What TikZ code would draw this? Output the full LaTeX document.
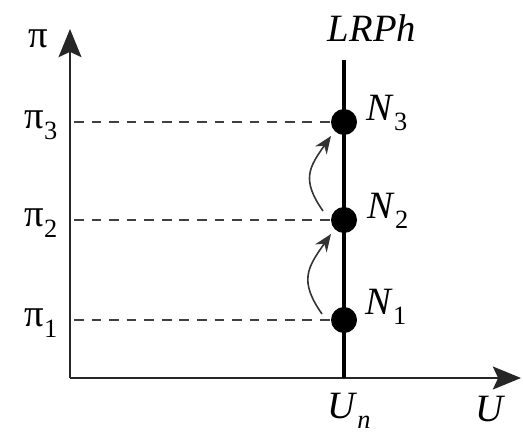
\documentclass[tikz,border=0pt]{standalone}
\usepackage{fontspec}
\setmainfont{Liberation Serif}
\usetikzlibrary{arrows.meta}
\newcommand{\lowidx}[1]{\raisebox{-0.6ex}{\fontsize{15}{15}\selectfont #1}}

\begin{document}
\begin{tikzpicture}[font=\fontsize{22}{24}\selectfont,
	axis/.style={line width=1.5pt,black!85,-{Stealth[length=16pt,width=13pt,inset=3pt]}},
	level/.style={black!75,line width=0.9pt,dash pattern=on 5.5pt off 4.5pt},
	dot/.style={circle,fill=black,inner sep=0pt,minimum width=0.52cm,minimum height=0.46cm},
	hop/.style={black!80,line width=0.9pt,-{Stealth[length=10pt,width=8pt]}}]
	\useasboundingbox (-1.4,-1.1) rectangle (9.06,7.56);
	\coordinate(O) at (0,0);
	\coordinate(Ytop) at (0,6.98);
	\coordinate(Xend) at (9.02,0);
	\coordinate(Lbot) at (5.48,0);
	\coordinate(Ltop) at (5.48,6.36);

	\node[dot](N1) at (5.48,1.16){};
	\node[dot](N2) at (5.48,3.16){};
	\node[dot](N3) at (5.48,5.12){};

	\coordinate(P1) at (0.08,1.16);
	\coordinate(P2) at (0.08,3.16);
	\coordinate(P3) at (0.08,5.12);

	\draw[level] (P1)--(N1.west);
	\draw[level] (P2)--(N2.west);
	\draw[level] (P3)--(N3.west);

	\draw[axis] (O)--(Ytop);
	\draw[axis] (O)--(Xend);
	\draw[line width=2.8pt] (Lbot)--(Ltop);

	\draw[hop] ([shift={(-0.44,0.12)}]N1.center) to[out=125,in=235,looseness=1.3] ([shift={(-0.26,-0.28)}]N2.center);
	\draw[hop] ([shift={(-0.42,0.18)}]N2.center) to[out=125,in=235,looseness=1.3] ([shift={(-0.26,-0.28)}]N3.center);

	\node(pi) at (-0.64,6.78){π};
	\node(pi1) at (-0.58,1.1){π\lowidx{1}};
	\node(pi2) at (-0.58,3.1){π\lowidx{2}};
	\node(pi3) at (-0.58,5.06){π\lowidx{3}};
	\node(LRPh) at (6.04,7.0){\textit{LRPh}};
	\node(lN1) at (6.32,1.42){\textit{N}\lowidx{1}};
	\node(lN2) at (6.36,3.34){\textit{N}\lowidx{2}};
	\node(lN3) at (6.34,5.3){\textit{N}\lowidx{3}};
	\node(Un) at (5.58,-0.66){\textit{U}\lowidx{\textit{n}}};
	\node(U) at (8.4,-0.62){\textit{U}};
\end{tikzpicture}
\end{document}
